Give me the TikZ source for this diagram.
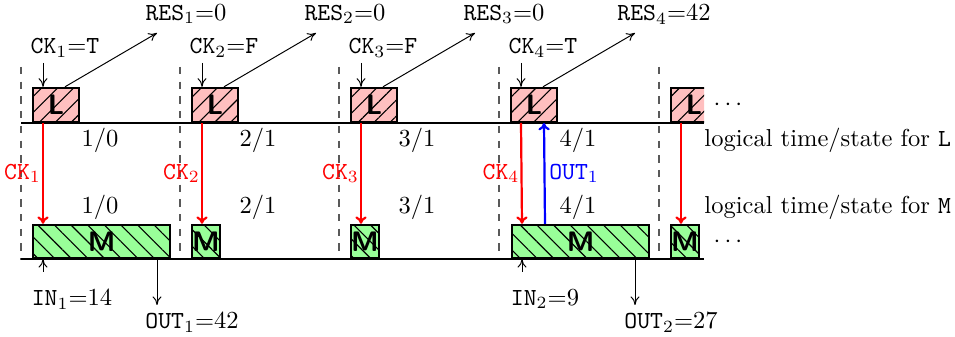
\documentclass[tikz,border=0pt]{standalone}
\usetikzlibrary{patterns.meta,calc,arrows.meta}
\begin{document}
\begin{tikzpicture}[x=0.408pt,y=-0.408pt,
  boxbase/.style={draw=black, line width=0.9pt, inner sep=0pt, anchor=south west,
    font=\fontsize{11.5}{13}\selectfont\sffamily\bfseries},
  lbox/.style={boxbase, fill=red!25,
    postaction={pattern={Lines[angle=45,distance=4.6pt,line width=0.45pt]}},
    minimum width=18.77pt, minimum height=13.87pt},
  mbox/.style={boxbase, fill=green!40,
    postaction={pattern={Lines[angle=-45,distance=4.8pt,line width=0.45pt]}},
    minimum height=13.46pt},
  tline/.style={line width=0.9pt},
  dsh/.style={dashed, black!65, line width=0.5pt},
  thinarr/.style={-{To[length=3.5pt,width=3.6pt]}, line width=0.4pt},
  ckarr/.style={-{To[length=3pt,width=4.6pt]}, red, line width=0.9pt},
  outarr/.style={-{To[length=3pt,width=4.6pt]}, blue, line width=0.9pt},
  lab/.style={inner sep=0pt}
]
\useasboundingbox (0,0) rectangle (955,337);

% dashed period separators
\foreach \x in {21,180,339,499,659}
  \draw[dsh] (\x,67) -- (\x,260);

% timelines
\coordinate (tlA) at (21,123);
\coordinate (tlB) at (704,123);
\coordinate (tmA) at (21,259);
\coordinate (tmB) at (704,259);
\draw[tline] (tlA) -- (tlB);
\draw[tline] (tmA) -- (tmB);

% L boxes with inputs and outputs
\foreach \o/\i/\c/\r in {0/1/T/0, 159/2/F/0, 318/3/F/0, 478/4/T/42} {
  \node[lbox] (L\i) at (32+\o,123) {L};
  \node[lab] (ckt\i) at (65+\o,48) {\texttt{CK}$_{\i}$=\texttt{\c}};
  \draw[thinarr] ($(L\i.north west)+(11,-24)$) -- ($(L\i.north west)+(11,0)$);
  \node[lab] (res\i) at (186+\o,14) {\texttt{RES}$_{\i}$=\r};
  \coordinate (re\i) at (157+\o,33);
  \draw[thinarr] ($(L\i.north west)+(33,0)$) -- (re\i);
}
\begin{scope}
  \clip (0,0) rectangle (704,337);
  \node[lbox] (L5) at (670,123) {L};
\end{scope}

% state labels
\node[lab] (sl1) at (100,140) {1/0};
\node[lab] (sl2) at (258,140) {2/1};
\node[lab] (sl3) at (417,140) {3/1};
\node[lab] (sl4) at (578,140) {4/1};
\node[lab] (sm1) at (100,207) {1/0};
\node[lab] (sm2) at (258,207) {2/1};
\node[lab] (sm3) at (417,207) {3/1};
\node[lab] (sm4) at (578,207) {4/1};

% M boxes
\node[mbox, minimum width=55.9pt] (M1) at (32,259) {M};
\node[mbox, minimum width=9.79pt] (M2) at (191,259) {M};
\node[mbox, minimum width=9.79pt] (M3) at (350,259) {M};
\node[mbox, minimum width=55.9pt] (M4) at (511,259) {M};
\node[mbox, minimum width=9.5pt] (M5) at (670,259) {M};

% clock arrows
\foreach \i in {1,2,3,4}
  \draw[ckarr] ($(L\i.south west)+(11,0)$) -- ($(M\i.north west)+(11,0)$)
    node[midway, anchor=east, inner sep=0.4pt, text=red] {\texttt{CK}$_{\i}$};
\draw[ckarr] ($(L5.south west)+(11,0)$) -- ($(M5.north west)+(11,0)$);

% feedback OUT1
\draw[outarr] ($(M4.north west)+(34,0)$) -- ($(L4.south west)+(34,0)$)
  node[midway, anchor=west, inner sep=1.5pt, text=blue] {\texttt{OUT}$_1$};

% inputs / outputs of M
\draw[thinarr] ($(M1.south west)+(11,13)$) -- ($(M1.south west)+(11,0)$);
\node[lab] (in1) at (72,299) {\texttt{IN}$_1$=14};
\draw[thinarr] ($(M1.south west)+(125,0)$) -- ($(M1.south west)+(125,46)$);
\node[lab] (out1) at (192,322) {\texttt{OUT}$_1$=42};
\draw[thinarr] ($(M4.south west)+(11,13)$) -- ($(M4.south west)+(11,0)$);
\node[lab] (in2) at (545,299) {\texttt{IN}$_2$=9};
\draw[thinarr] ($(M4.south west)+(124,0)$) -- ($(M4.south west)+(124,46)$);
\node[lab] (out2) at (671,322) {\texttt{OUT}$_2$=27};

% right side
\node[lab] (dl) at (728,105) {$\cdots$};
\node[lab] (dm) at (728,242) {$\cdots$};
\node[lab, anchor=west] (tL) at (704,140) {logical time/state for \texttt{L}};
\node[lab, anchor=west] (tM) at (704,207) {logical time/state for \texttt{M}};
\end{tikzpicture}
\end{document}
